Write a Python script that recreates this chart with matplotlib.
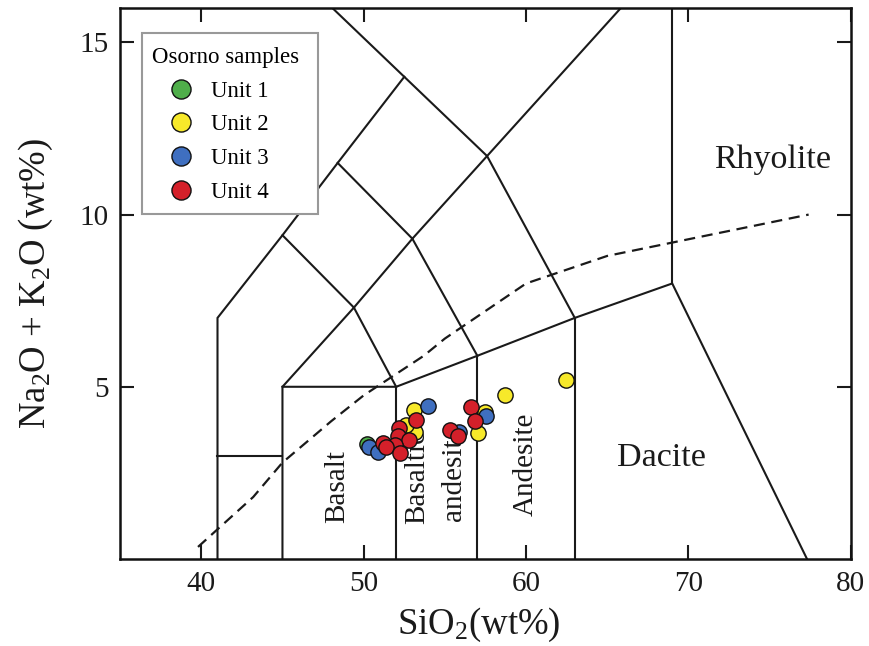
import matplotlib
matplotlib.use("Agg")
import matplotlib.pyplot as plt
from matplotlib.patches import Rectangle

plt.rcParams['font.family'] = ['Liberation Serif', 'DejaVu Serif']
plt.rcParams['mathtext.fontset'] = 'custom'
plt.rcParams['mathtext.rm'] = 'Liberation Serif'
plt.rcParams['mathtext.it'] = 'Liberation Serif:italic'

# ---- data (SiO2, Na2O+K2O) ----
unit1_sio2 = [50.2]
unit1_alk = [3.34]
unit2_sio2 = [53.12, 53.17, 52.6, 57.5, 57.03, 58.71, 62.49]
unit2_alk = [4.33, 3.70, 3.90, 4.28, 3.67, 4.77, 5.20]
unit3_sio2 = [53.94, 50.35, 50.9, 55.86, 57.54]
unit3_alk = [4.45, 3.24, 3.12, 3.70, 4.14]
unit4_sio2 = [53.23, 52.2, 52.1, 52.8, 51.9, 51.17, 51.38, 52.24, 55.32, 55.79, 56.62, 56.88]
unit4_alk = [4.04, 3.80, 3.56, 3.46, 3.31, 3.36, 3.26, 3.09, 3.75, 3.56, 4.40, 4.01]

unit_names = ['Unit 1', 'Unit 2', 'Unit 3', 'Unit 4']
unit_colors = ['#4fae4a', '#f7e92a', '#3f6fc0', '#d4202a']

# TAS field boundaries (Le Bas et al., 1986)
tas_lines = [
    [(41, 0), (41, 7), (45, 9.4), (48.4, 11.5), (52.5, 14)],
    [(41, 3), (45, 3)],
    [(45, 0), (45, 5), (52, 5), (57, 5.9), (63, 7), (69, 8), (77.3, 0)],
    [(52, 0), (52, 5)],
    [(57, 0), (57, 5.9)],
    [(63, 0), (63, 7)],
    [(69, 8), (69, 16)],
    [(45, 5), (49.4, 7.3), (52, 5)],
    [(49.4, 7.3), (45, 9.4)],
    [(49.4, 7.3), (53, 9.3), (57, 5.9)],
    [(53, 9.3), (48.4, 11.5)],
    [(53, 9.3), (57.6, 11.7), (65.84, 16)],
    [(63, 7), (57.6, 11.7), (48.07, 16)],
]

# Irvine & Baragar alkaline / subalkaline divide
ib_sio2 = [39.8, 43.2, 45, 48, 50, 53.7, 55, 60, 65, 77.4]
ib_alk = [0.35, 1.8, 2.8, 4.0, 4.75, 5.9, 6.4, 8.0, 8.8, 10.0]

fig = plt.figure(figsize=(8.7, 6.46), dpi=100)
ax = fig.add_axes([0.138, 0.1347, 0.840, 0.853])

for seg in tas_lines:
    xs, ys = zip(*seg)
    ax.plot(xs, ys, color='#1a1a1a', lw=1.5, solid_joinstyle='miter', zorder=2)

ax.plot(ib_sio2, ib_alk, color='#1a1a1a', lw=1.6, ls=(0, (5, 3)), zorder=2)

txtc = '#1a1a1a'
ax.text(75.2, 11.6, 'Rhyolite', fontsize=24.5, ha='center', va='center', color=txtc)
ax.text(68.35, 2.94, 'Dacite', fontsize=24.5, ha='center', va='center', color=txtc)
ax.text(48.4, 2.1, 'Basalt', fontsize=21, rotation=90, ha='center', va='center', color=txtc)
ax.text(53.27, 2.38, 'Basaltic', fontsize=21, rotation=90, ha='center', va='center', color=txtc)
ax.text(55.59, 2.5, 'andesite', fontsize=21, rotation=90, ha='center', va='center', color=txtc)
ax.text(60.0, 2.76, 'Andesite', fontsize=21, rotation=90, ha='center', va='center', color=txtc)

series = [(unit1_sio2, unit1_alk), (unit2_sio2, unit2_alk),
          (unit3_sio2, unit3_alk), (unit4_sio2, unit4_alk)]
for (xs, ys), name, col in zip(series, unit_names, unit_colors):
    ax.plot(xs, ys, ls='none', marker='o', ms=11, mfc=col, mec='#111111',
            mew=1.0, label=name, zorder=5)

ax.set_xlim(35, 80)
ax.set_ylim(0, 16)
ax.set_xticks([40, 50, 60, 70, 80])
ax.set_yticks([5, 10, 15])
ax.tick_params(direction='in', length=10, width=1.5, top=True, right=True,
               labelsize=21, colors=txtc)
ax.tick_params(axis='x', pad=9)
ax.tick_params(axis='y', pad=8)
for sp in ax.spines.values():
    sp.set_linewidth(1.8)
    sp.set_color('#111111')

ax.set_xlabel('SiO$_2$(wt%)', fontsize=26.5, color=txtc)
ax.xaxis.set_label_coords(0.491, -0.084, transform=ax.transAxes)
ax.xaxis.label.set_va('top')
ax.set_ylabel('Na$_2$O + K$_2$O (wt%)', fontsize=26.5, color=txtc, labelpad=18)

# legend frame drawn separately
ax.add_patch(Rectangle((0.030, 0.626), 0.241, 0.329, transform=ax.transAxes,
                       facecolor='white', edgecolor='#999999', lw=1.5, zorder=6))
leg = ax.legend(title='Osorno samples', loc='upper left',
                bbox_to_anchor=(0.0434, 0.929), fontsize=16.5, title_fontsize=16.5,
                frameon=False, handlelength=2.55, handletextpad=0.05,
                markerscale=1.25, borderpad=0, labelspacing=0.55, borderaxespad=0)
leg.set_zorder(7)
leg._legend_box.align = 'left'

fig.savefig('out.png', dpi=100)
